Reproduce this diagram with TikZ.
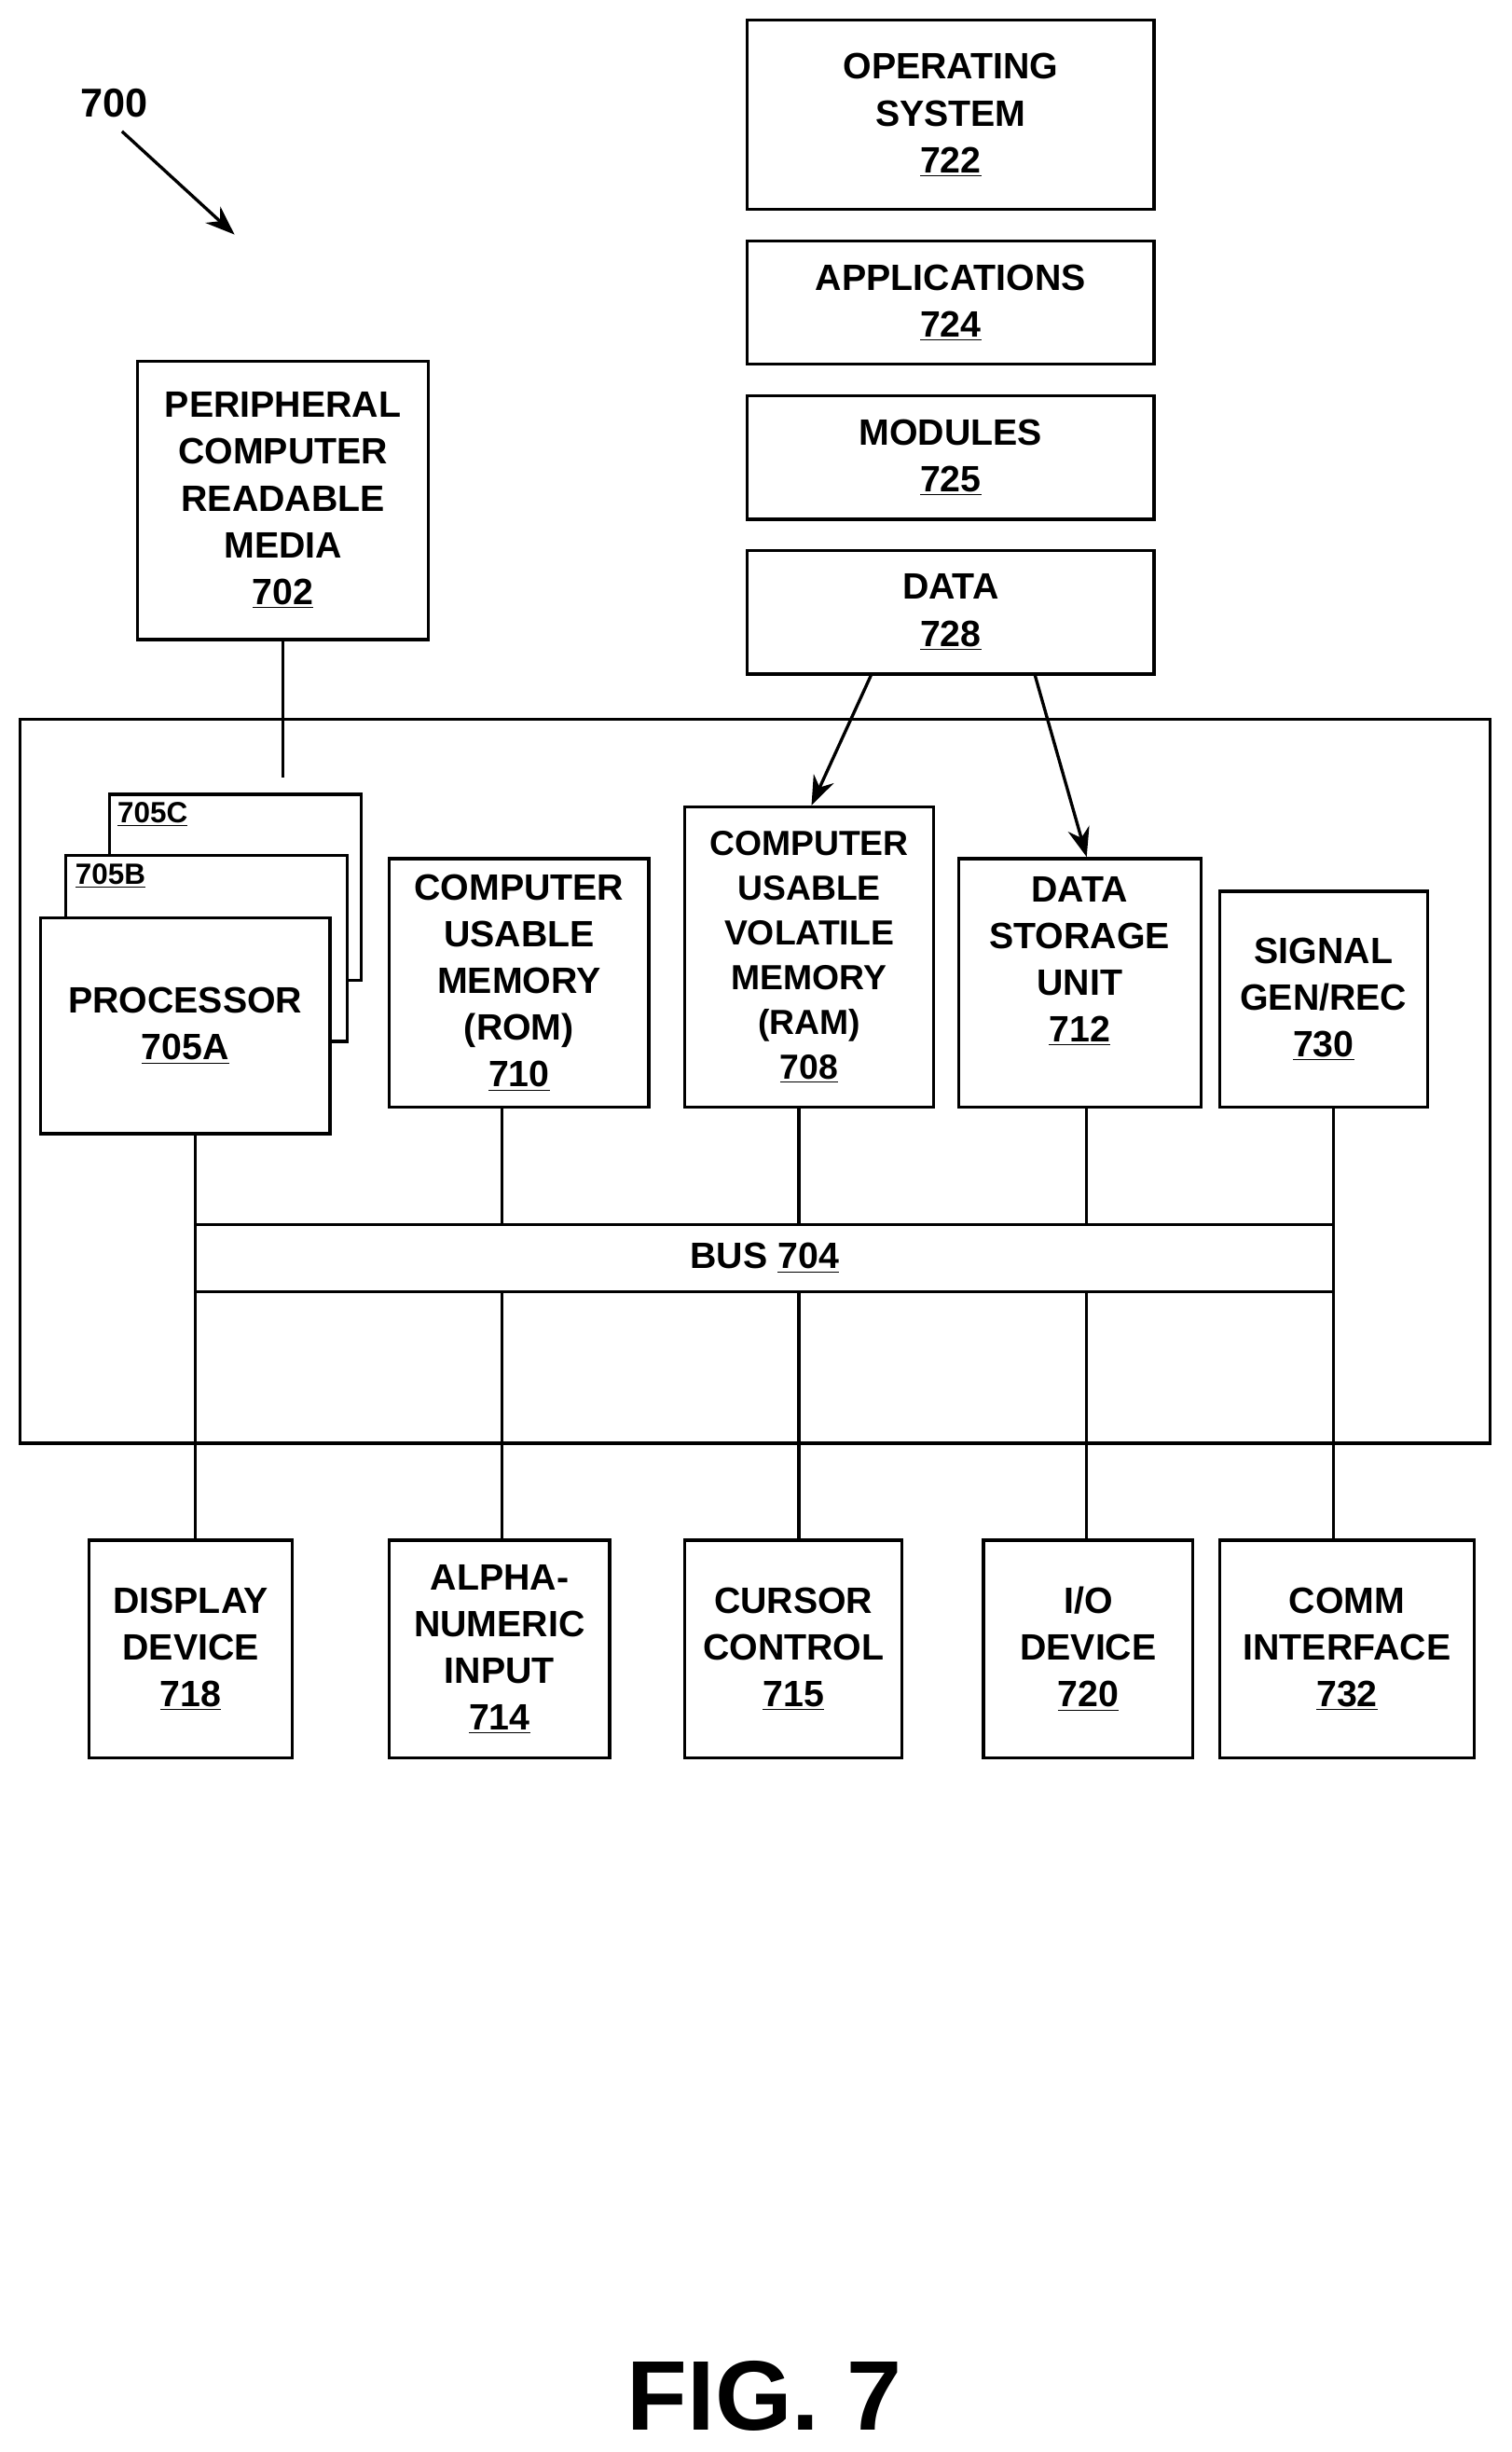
\documentclass[tikz,border=0pt]{standalone}
\usepackage{fontspec}
\setmainfont{Liberation Sans}
\usetikzlibrary{positioning,arrows.meta}
\tikzset{%
	box/.style   = {draw, line width=1.7pt, rectangle, fill=white, align=center, inner sep=0pt, font=\fontsize{20}{25.5}\selectfont\bfseries},
	wire/.style  = {line width=1.7pt},
	arrow/.style = {line width=1.7pt,-{Stealth[length=16pt,width=12pt]}},
}
\newcommand{\refnum}[1]{\underline{#1}}
\begin{document}
\begin{tikzpicture}[x=0.03cm,y=-0.03cm]
		\useasboundingbox (0,0) rectangle (967,1568);
		% software stack
		\node[box, minimum width=7.8cm, minimum height=3.63cm] (os) at (608,73.5) {OPERATING\\SYSTEM\\\refnum{722}};
		\node[box, minimum width=7.8cm, minimum height=2.37cm] (apps) at (608,193.5) {APPLICATIONS\\\refnum{724}};
		\node[box, minimum width=7.8cm, minimum height=2.37cm] (mods) at (608,292.5) {MODULES\\\refnum{725}};
		\node[box, minimum width=7.8cm, minimum height=2.37cm] (data) at (608,391.5) {DATA\\\refnum{728}};
		
		\node[box, minimum width=5.58cm, minimum height=5.34cm] (media) at (181,320) {PERIPHERAL\\COMPUTER\\READABLE\\MEDIA\\\refnum{702}};
		
		% computer system
		\draw[wire] (13,460) rectangle (953,923);
		\coordinate (mediaend) at (181,497);
		\draw[wire] (media.south) -- (mediaend);
		
		\draw[wire, fill=white] (70,508) rectangle (231,627);
		\node[anchor=north west, font=\fontsize{16}{18}\selectfont\bfseries, inner sep=0pt] (lblc) at (75,513) {\refnum{705C}};
		\draw[wire, fill=white] (42,547) rectangle (222,666);
		\node[anchor=north west, font=\fontsize{16}{18}\selectfont\bfseries, inner sep=0pt] (lblb) at (48,552) {\refnum{705B}};
		\node[box, minimum width=5.55cm, minimum height=4.14cm] (cpu) at (118.5,656) {PROCESSOR\\\refnum{705A}};
		
		\node[box, minimum width=4.98cm, minimum height=4.77cm] (rom) at (332,628.5) {COMPUTER\\USABLE\\MEMORY\\(ROM)\\\refnum{710}};
		\node[box, minimum width=4.77cm, minimum height=5.76cm, font=\fontsize{19}{24.5}\selectfont\bfseries] (ram) at (517.5,612) {COMPUTER\\USABLE\\VOLATILE\\MEMORY\\(RAM)\\\refnum{708}};
		\node[box, minimum width=4.65cm, minimum height=4.77cm, text depth=0.9cm] (dsu) at (690.5,628.5) {DATA\\STORAGE\\UNIT\\\refnum{712}};
		\node[box, minimum width=3.99cm, minimum height=4.14cm] (sig) at (846.5,639) {SIGNAL\\GEN/REC\\\refnum{730}};
		
		\node[box, minimum width=21.84cm, minimum height=1.29cm] (bus) at (489,804.5) {BUS \refnum{704}};
		
		% peripherals
		\node[box, minimum width=3.9cm, minimum height=4.17cm] (disp) at (122,1054.5) {DISPLAY\\DEVICE\\\refnum{718}};
		\node[box, minimum width=4.23cm, minimum height=4.17cm] (alpha) at (319.5,1054.5) {ALPHA-\\NUMERIC\\INPUT\\\refnum{714}};
		\node[box, minimum width=4.17cm, minimum height=4.17cm] (cursor) at (507.5,1054.5) {CURSOR\\CONTROL\\\refnum{715}};
		\node[box, minimum width=4.02cm, minimum height=4.17cm] (io) at (696,1054.5) {I/O\\DEVICE\\\refnum{720}};
		\node[box, minimum width=4.89cm, minimum height=4.17cm] (comm) at (861.5,1054.5) {COMM\\INTERFACE\\\refnum{732}};
		
		% connections to the bus
		\coordinate (pcpu) at (125,725);
		\draw[wire] (pcpu) -- (pcpu |- bus.north);
		\draw[wire] (pcpu |- bus.south) -- (pcpu |- disp.north);
		\coordinate (prom) at (321,708);
		\draw[wire] (prom) -- (prom |- bus.north);
		\draw[wire] (prom |- bus.south) -- (prom |- alpha.north);
		\coordinate (pram) at (511,708);
		\draw[wire] (pram) -- (pram |- bus.north);
		\draw[wire] (pram |- bus.south) -- (pram |- cursor.north);
		\coordinate (pdsu) at (695,708);
		\draw[wire] (pdsu) -- (pdsu |- bus.north);
		\draw[wire] (pdsu |- bus.south) -- (pdsu |- io.north);
		\coordinate (psig) at (853,708);
		\draw[wire] (psig) -- (psig |- bus.north);
		\draw[wire] (psig |- bus.south) -- (psig |- comm.north);
		
		% data flows
		\draw[arrow] (data.south -| 557,0) -- (ram.north -| 519,0);
		\draw[arrow] (data.south -| 662,0) -- (dsu.north -| 695,0);
		
		% labels
		\node[font=\fontsize{22}{26}\selectfont\bfseries] (fignum) at (73,66) {700};
		\coordinate (figtip) at (150,150);
		\draw[arrow] (78,84) -- (figtip);
		\node[font=\fontsize{54}{60}\selectfont\bfseries] (caption) at (489,1532) {FIG. 7};
\end{tikzpicture}
\end{document}
